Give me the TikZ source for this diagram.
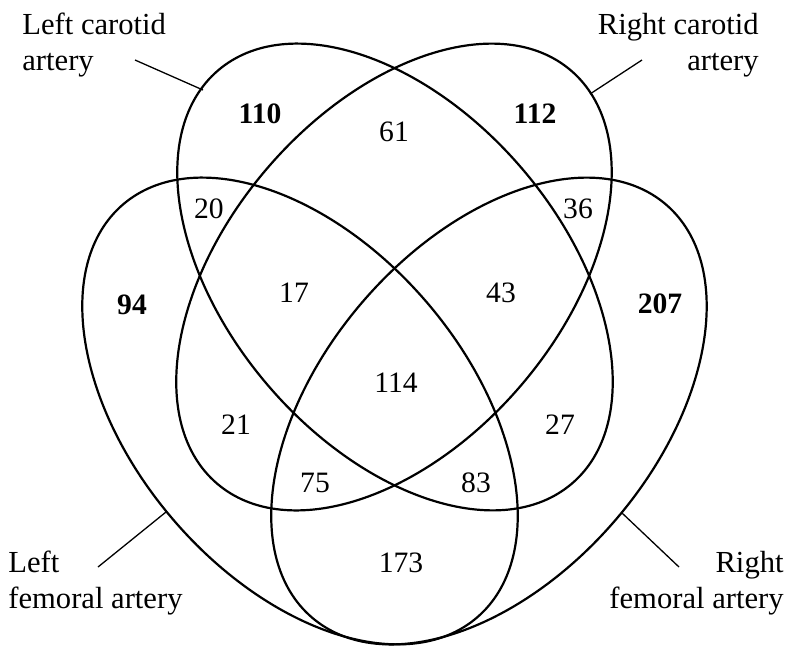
\documentclass[tikz,border=0pt]{standalone}
\usepackage{fontspec}
\setmainfont{Liberation Serif}
\begin{document}
\begin{tikzpicture}[x=0.5pt,y=-0.5pt]
\tikzset{
  vennline/.style={line width=1.1pt},
  leader/.style={line width=0.65pt},
  num/.style={font=\fontsize{14.8}{17}\selectfont, inner sep=0pt},
  bignum/.style={font=\fontsize{14.8}{17}\selectfont\bfseries, inner sep=0pt},
  lab/.style={font=\fontsize{15.3}{18}\selectfont, inner sep=0pt},
}
\useasboundingbox (0,0) rectangle (789,645);
\fill[white] (0,0) rectangle (789,645);

% centres of the four sets
\coordinate (cLC) at (395,277);
\coordinate (cRC) at (394,277);
\coordinate (cLF) at (300,411);
\coordinate (cRF) at (489,411);

% Left carotid artery
\draw[vennline, rotate around={-49.4:(cLC)}] (cLC) ellipse [x radius=136pt, y radius=83.5pt];
% Right carotid artery
\draw[vennline, rotate around={49.4:(cRC)}] (cRC) ellipse [x radius=136pt, y radius=83.5pt];
% Left femoral artery
\draw[vennline, rotate around={-49.4:(cLF)}] (cLF) ellipse [x radius=136pt, y radius=83.5pt];
% Right femoral artery
\draw[vennline, rotate around={49.4:(cRF)}] (cRF) ellipse [x radius=136pt, y radius=83.5pt];

% labels
\node[lab, anchor=north west, align=left] (lcl) at (22,12.5) {Left carotid\\artery};
\node[lab, anchor=north east, align=right] (rcl) at (759,12.5) {Right carotid\\artery};
\node[lab, anchor=north west, align=left] (lfl) at (8,550.5) {Left\\femoral artery};
\node[lab, anchor=north east, align=right] (rfl) at (784,550.5) {Right\\femoral artery};

% leader lines
\coordinate (lcA) at (135,60);  \coordinate (lcB) at (203,90);
\coordinate (rcA) at (642,60);  \coordinate (rcB) at (590,94);
\coordinate (lfA) at (98,567);  \coordinate (lfB) at (166,512);
\coordinate (rfA) at (679,567); \coordinate (rfB) at (622,513);
\draw[leader] (lcA) -- (lcB);
\draw[leader] (rcA) -- (rcB);
\draw[leader] (lfA) -- (lfB);
\draw[leader] (rfA) -- (rfB);

% numbers
\node[bignum] (n110) at (260,114) {110};
\node[bignum] (n112) at (535,114) {112};
\node[num] (n61) at (394,132) {61};
\node[num] (n20) at (209,209) {20};
\node[num] (n36) at (578,209) {36};
\node[bignum] (n94) at (132,305) {94};
\node[num] (n17) at (294,293) {17};
\node[num] (n43) at (501,293) {43};
\node[bignum] (n207) at (660,304) {207};
\node[num] (n114) at (396,383) {114};
\node[num] (n21) at (236,425) {21};
\node[num] (n27) at (560,425) {27};
\node[num] (n75) at (315,483) {75};
\node[num] (n83) at (476,483) {83};
\node[num] (n173) at (401,563) {173};
\end{tikzpicture}
\end{document}
